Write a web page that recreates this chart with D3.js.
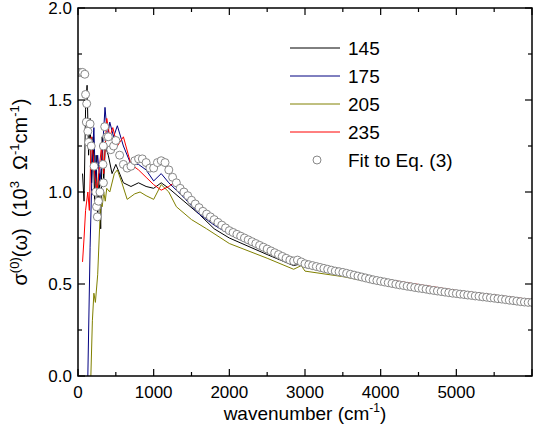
<!DOCTYPE html>
<html><head><meta charset="utf-8">
<script src="https://cdn.jsdelivr.net/npm/d3@7"></script>
<style>body{margin:0;background:#fff}text{font-family:"Liberation Sans",Arial,sans-serif;white-space:pre}</style>
</head><body><svg width="534" height="436"></svg>
<script>
// series: [wavenumber, sigma]
const s145 = [[60,1.1],[80,0.95],[100,1.45],[120,1.58],[140,1.2],[160,1.4],[180,1.05],[200,1.3],[220,0.95],[240,1.2],[260,0.85],[280,1.1],[300,0.8],[320,1.3],[340,1.05],[360,1.25],[400,1.2],[450,1.1],[500,1.15],[600,1.05],[700,1.03],[800,1.05],[900,1.03],[1000,1.02],[1100,1.05],[1200,1.02],[1400,0.95],[1600,0.88],[1800,0.8],[2000,0.75],[2500,0.66],[2850,0.6],[2950,0.61],[3000,0.59],[3500,0.55],[4000,0.51],[5000,0.45],[6000,0.405]];
const s175 = [[130,0.0],[160,0.7],[190,1.2],[210,1.35],[230,1.05],[260,1.2],[290,1.05],[320,1.2],[357,1.46],[390,1.3],[420,1.38],[470,1.3],[520,1.36],[600,1.25],[700,1.15],[800,1.15],[900,1.12],[1000,1.06],[1100,1.1],[1200,1.05],[1400,0.97],[1600,0.88],[1800,0.82],[2000,0.77],[2500,0.67],[2850,0.61],[2950,0.62],[3000,0.6],[3500,0.555],[4000,0.515],[5000,0.455],[6000,0.405]];
const s205 = [[170,0.0],[190,0.3],[210,0.45],[230,0.4],[260,0.55],[280,0.75],[300,0.95],[320,0.92],[340,1.0],[360,0.95],[380,1.02],[420,1.0],[480,1.1],[520,1.12],[580,1.05],[650,0.96],[750,0.99],[820,1.0],[900,0.98],[1000,0.96],[1100,1.04],[1200,1.0],[1300,0.92],[1500,0.85],[1700,0.8],[2000,0.72],[2500,0.64],[2850,0.58],[2950,0.6],[3000,0.57],[3500,0.54],[4000,0.5],[5000,0.445],[6000,0.4]];
const s235 = [[60,0.62],[80,0.75],[100,0.9],[130,1.0],[150,0.9],[175,1.3],[200,1.2],[220,1.1],[250,1.0],[280,1.12],[310,1.25],[340,1.1],[380,1.4],[420,1.3],[460,1.35],[520,1.25],[600,1.3],[700,1.15],[800,1.12],[900,1.08],[1000,1.04],[1100,1.01],[1200,1.03],[1300,1.06],[1500,0.95],[1700,0.88],[2000,0.8],[2500,0.69],[2850,0.63],[2950,0.63],[3000,0.62],[3300,0.59],[3500,0.575],[4000,0.53],[5000,0.465],[6000,0.415]];
const fit = [[0,1.65],[30,1.65],[60,1.65],[90,1.64],[100,1.53],[115,1.48],[110,1.38],[130,1.33],[140,1.27],[160,1.37],[175,1.25],[212,1.14],[234,1.0],[245,0.92],[256,0.865],[270,0.95],[290,1.0],[336,1.05],[330,1.15],[335,1.25],[353,1.355],[380,1.3],[400,1.3],[433,1.23],[470,1.25],
[500,1.28],[550,1.2],[600,1.15],[650,1.13],[700,1.14],[750,1.17],[800,1.18],[850,1.18],[900,1.16],[950,1.13],[1000,1.13],[1050,1.16],[1100,1.17],[1150,1.16],[1200,1.12],[1250,1.08],[1300,1.05],[1350,1.02],[1400,1.0],[1450,0.98],[1500,0.955],[1550,0.935],[1600,0.915],[1650,0.895],[1700,0.88],[1750,0.865],[1800,0.85],[1850,0.835],[1900,0.82],[1950,0.805],[2000,0.79],[2050,0.78],[2100,0.77],[2150,0.76],[2200,0.75],[2250,0.74],[2300,0.73],[2350,0.72],[2400,0.71],[2450,0.70],[2500,0.69],[2550,0.68],[2600,0.67],[2650,0.66],[2700,0.65],[2750,0.64],[2800,0.63],[2850,0.625],[2900,0.63],[2950,0.62],[3000,0.61],[3050,0.605],[3100,0.60],[3150,0.595],[3200,0.59],[3250,0.585],[3300,0.58],[3350,0.575],[3400,0.57],[3450,0.567],[3500,0.563],[3550,0.558],[3600,0.553],[3650,0.548],[3700,0.543],[3750,0.538],[3800,0.533],[3850,0.528],[3900,0.523],[3950,0.519],[4000,0.515],[4050,0.511],[4100,0.507],[4150,0.503],[4200,0.499],[4250,0.495],[4300,0.492],[4350,0.488],[4400,0.485],[4450,0.481],[4500,0.478],[4550,0.475],[4600,0.472],[4650,0.468],[4700,0.465],[4750,0.462],[4800,0.459],[4850,0.456],[4900,0.453],[4950,0.45],[5000,0.448],[5050,0.445],[5100,0.443],[5150,0.44],[5200,0.438],[5250,0.435],[5300,0.433],[5350,0.43],[5400,0.428],[5450,0.425],[5500,0.423],[5550,0.42],[5600,0.418],[5650,0.415],[5700,0.412],[5750,0.41],[5800,0.407],[5850,0.404],[5900,0.402],[5950,0.40],[6000,0.40]];
const labels = ["145","175","205","235"];
const colors = ["#000000","#000080","#808000","#ff0000"];
const xTicks = [0,1000,2000,3000,4000,5000];
const yTicks = [0.0,0.5,1.0,1.5,2.0];

const svg = d3.select("svg");
const L = 78, R = 532, T = 8, B = 376;
const x = d3.scaleLinear().domain([0,6000]).range([L,R]);
const y = d3.scaleLinear().domain([0,2]).range([B,T]);

svg.append("clipPath").attr("id","c").append("rect").attr("x",L).attr("y",T).attr("width",R-L).attr("height",B-T);
const clipped = svg.append("g").attr("clip-path","url(#c)");

const line = d3.line().x(d => x(d[0])).y(d => y(d[1]));
[s145,s175,s205,s235].forEach((s,i) => {
  clipped.append("path").datum(s).attr("d",line).attr("fill","none").attr("stroke",colors[i]).attr("stroke-width",1);
});
clipped.selectAll("circle").data(fit).enter().append("circle")
  .attr("cx", d => x(d[0])).attr("cy", d => y(d[1])).attr("r",4)
  .attr("fill","#fff").attr("stroke","#888").attr("stroke-width",1);

//Axes
const minorX = d3.range(0,6001,500), minorY = d3.range(0,2.01,0.25);
const ax = svg.append("g").attr("stroke","#000").attr("stroke-width",1.2);
minorX.forEach(v => {
  const len = v % 1000 === 0 ? 7 : 4;
  ax.append("line").attr("x1",x(v)).attr("x2",x(v)).attr("y1",B).attr("y2",B-len);
  ax.append("line").attr("x1",x(v)).attr("x2",x(v)).attr("y1",T).attr("y2",T+len);
});
minorY.forEach(v => {
  const len = Math.round(v*100) % 50 === 0 ? 7 : 4;
  ax.append("line").attr("x1",L).attr("x2",L+len).attr("y1",y(v)).attr("y2",y(v));
  ax.append("line").attr("x1",R).attr("x2",R-len).attr("y1",y(v)).attr("y2",y(v));
});
svg.append("rect").attr("x",L).attr("y",T).attr("width",R-L).attr("height",B-T).attr("fill","none").attr("stroke","#000").attr("stroke-width",1.5);

svg.selectAll(".xt").data(xTicks).enter().append("text")
  .attr("x", d => x(d)).attr("y",B+22).attr("text-anchor","middle").attr("font-size",17).text(d => d);
svg.selectAll(".yt").data(yTicks).enter().append("text")
  .attr("x",L-6).attr("y", d => y(d)+6).attr("text-anchor","end").attr("font-size",17).text(d => d.toFixed(1));

const xl = svg.append("text").attr("x",(L+R)/2).attr("y",420).attr("text-anchor","middle").attr("font-size",19);
xl.append("tspan").text("wavenumber (cm");
xl.append("tspan").attr("dy",-8).attr("font-size",12).text("-1");
xl.append("tspan").attr("dy",8).text(")");

const yl = svg.append("text").attr("transform","translate(27,"+((T+B)/2)+") rotate(-90)").attr("text-anchor","middle").attr("font-size",20);
yl.append("tspan").text("σ");
yl.append("tspan").attr("dy",-8).attr("font-size",13).text("(0)");
yl.append("tspan").attr("dy",8).text("(ω)  (10");
yl.append("tspan").attr("dy",-8).attr("font-size",13).text("3");
yl.append("tspan").attr("dy",8).text("  Ω");
yl.append("tspan").attr("dy",-8).attr("font-size",13).text("-1");
yl.append("tspan").attr("dy",8).text("cm");
yl.append("tspan").attr("dy",-8).attr("font-size",13).text("-1");
yl.append("tspan").attr("dy",8).text(")");

//Legend
labels.forEach((lab,i) => {
  const ly = 48 + i*28;
  svg.append("line").attr("x1",290).attr("x2",340).attr("y1",ly).attr("y2",ly).attr("stroke",colors[i]);
  svg.append("text").attr("x",348).attr("y",ly+7).attr("font-size",19).text(lab);
});
svg.append("circle").attr("cx",317).attr("cy",160).attr("r",4).attr("fill","#fff").attr("stroke","#888");
svg.append("text").attr("x",348).attr("y",167).attr("font-size",19).text("Fit to Eq. (3)");
</script></body></html>
